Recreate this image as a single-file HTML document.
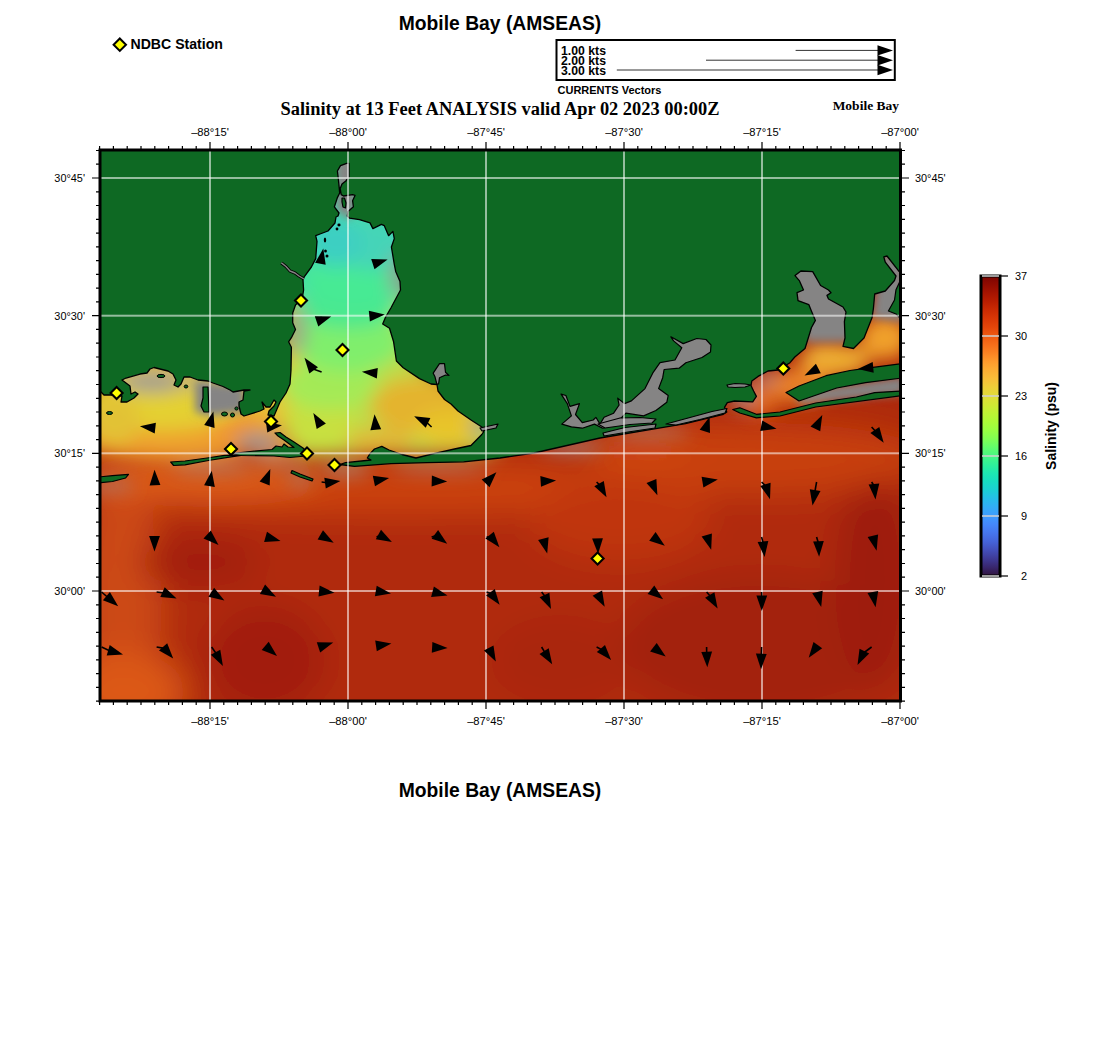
<!DOCTYPE html>
<html><head><meta charset="utf-8"><style>
html,body{margin:0;padding:0;background:#fff;width:1100px;height:1050px;overflow:hidden}
svg{position:absolute;left:0;top:0;display:block}
text{fill:#000}
</style></head><body>
<svg width="1100" height="1050" viewBox="0 0 1100 1050">
<defs>
<clipPath id="mapclip"><rect x="101" y="151" width="799" height="550"/></clipPath>
<filter id="bl" x="-20%" y="-20%" width="140%" height="140%"><feGaussianBlur stdDeviation="9"/></filter>
<filter id="bl3" x="-20%" y="-20%" width="140%" height="140%"><feGaussianBlur stdDeviation="16"/></filter>
<filter id="bl2" x="-30%" y="-30%" width="160%" height="160%"><feGaussianBlur stdDeviation="4"/></filter>
<linearGradient id="cb" x1="0" y1="0" x2="0" y2="1"><stop offset="0.0000" stop-color="#7a0402"/><stop offset="0.0286" stop-color="#910b01"/><stop offset="0.0571" stop-color="#a61401"/><stop offset="0.0857" stop-color="#b91e01"/><stop offset="0.1143" stop-color="#cb2b03"/><stop offset="0.1429" stop-color="#d93806"/><stop offset="0.1714" stop-color="#e5460a"/><stop offset="0.2000" stop-color="#ef5a11"/><stop offset="0.2286" stop-color="#f76e1a"/><stop offset="0.2571" stop-color="#fb8323"/><stop offset="0.2857" stop-color="#fe9b2d"/><stop offset="0.3143" stop-color="#fcae34"/><stop offset="0.3429" stop-color="#f8be39"/><stop offset="0.3714" stop-color="#edcf39"/><stop offset="0.4000" stop-color="#e1dc37"/><stop offset="0.4286" stop-color="#d1e834"/><stop offset="0.4571" stop-color="#bef334"/><stop offset="0.4857" stop-color="#acfa37"/><stop offset="0.5143" stop-color="#98fe42"/><stop offset="0.5429" stop-color="#80fe53"/><stop offset="0.5714" stop-color="#61fc6c"/><stop offset="0.6000" stop-color="#46f783"/><stop offset="0.6286" stop-color="#2ff09a"/><stop offset="0.6571" stop-color="#1de7b1"/><stop offset="0.6857" stop-color="#17dcc2"/><stop offset="0.7143" stop-color="#1bcfd4"/><stop offset="0.7429" stop-color="#26bde9"/><stop offset="0.7714" stop-color="#33acf6"/><stop offset="0.8000" stop-color="#3e9bfe"/><stop offset="0.8286" stop-color="#4587fb"/><stop offset="0.8571" stop-color="#4675ed"/><stop offset="0.8857" stop-color="#4563d9"/><stop offset="0.9143" stop-color="#434eba"/><stop offset="0.9429" stop-color="#3e3a96"/><stop offset="0.9714" stop-color="#38266c"/><stop offset="1.0000" stop-color="#30123b"/></linearGradient>
</defs>
<text x="500" y="30" text-anchor="middle" font-family="Liberation Sans" font-weight="bold" font-size="19.3">Mobile Bay (AMSEAS)</text>
<text x="500" y="797" text-anchor="middle" font-family="Liberation Sans" font-weight="bold" font-size="19.3">Mobile Bay (AMSEAS)</text>
<path d="M119.8,38.5 L126,44.7 L119.8,50.9 L113.6,44.7 Z" fill="#ffff00" stroke="#000" stroke-width="2"/>
<text x="130.5" y="49" font-family="Liberation Sans" font-weight="bold" font-size="14.1">NDBC Station</text>
<rect x="556.5" y="40" width="338.3" height="40" fill="#fff" stroke="#000" stroke-width="2"/>
<text x="561" y="55.0" font-family="Liberation Sans" font-weight="bold" font-size="12.2" textLength="45" lengthAdjust="spacingAndGlyphs">1.00 kts</text>
<line x1="795.6" y1="50.4" x2="880" y2="50.4" stroke="#333" stroke-width="1"/>
<path d="M877.5,45.2 L893,50.4 L877.5,55.6 Z" fill="#000"/>
<text x="561" y="65.0" font-family="Liberation Sans" font-weight="bold" font-size="12.2" textLength="45" lengthAdjust="spacingAndGlyphs">2.00 kts</text>
<line x1="706.0" y1="60.2" x2="880" y2="60.2" stroke="#333" stroke-width="1"/>
<path d="M877.5,55.0 L893,60.2 L877.5,65.4 Z" fill="#000"/>
<text x="561" y="75.0" font-family="Liberation Sans" font-weight="bold" font-size="12.2" textLength="45" lengthAdjust="spacingAndGlyphs">3.00 kts</text>
<line x1="616.8" y1="70.0" x2="880" y2="70.0" stroke="#333" stroke-width="1"/>
<path d="M877.5,64.8 L893,70.0 L877.5,75.2 Z" fill="#000"/>
<text x="557.5" y="93.7" font-family="Liberation Sans" font-weight="bold" font-size="11">CURRENTS Vectors</text>
<text x="500" y="114.7" text-anchor="middle" font-family="Liberation Serif" font-weight="bold" font-size="18.4">Salinity at 13 Feet ANALYSIS valid Apr 02 2023 00:00Z</text>
<text x="899" y="110" text-anchor="end" font-family="Liberation Serif" font-weight="bold" font-size="13.5">Mobile Bay</text>
<g clip-path="url(#mapclip)">
<rect x="100" y="150" width="801" height="552" fill="#ad2a0c"/>
<g filter="url(#bl3)">
<ellipse cx="500" cy="600" rx="600" ry="200" fill="#b02c0c"/>
<ellipse cx="122" cy="600" rx="40" ry="125" fill="#cc4814"/>
<ellipse cx="125" cy="692" rx="60" ry="40" fill="#dc5818"/>
<ellipse cx="400" cy="488" rx="320" ry="24" fill="#cc420f"/>
<ellipse cx="200" cy="562" rx="60" ry="25" fill="#a21f08"/>
<ellipse cx="265" cy="660" rx="60" ry="55" fill="#a21f08"/>
<ellipse cx="560" cy="660" rx="70" ry="45" fill="#aa2609"/>
<ellipse cx="760" cy="645" rx="140" ry="70" fill="#a32008"/>
<ellipse cx="875" cy="580" rx="40" ry="110" fill="#9e1d08"/>
<ellipse cx="620" cy="520" rx="90" ry="40" fill="#c0360e"/>
<ellipse cx="760" cy="458" rx="170" ry="35" fill="#c8400f"/>
<ellipse cx="640" cy="450" rx="50" ry="14" fill="#d04812"/>
<ellipse cx="200" cy="478" rx="120" ry="18" fill="#e0601a"/>
</g>
<g filter="url(#bl)">
<path d="M280.0,150.0 L412.0,150.0 L412.0,300.0 L285.0,300.0 Z" fill="#46dcaa"/>
<path d="M280.0,300.0 L412.0,300.0 L420.0,365.0 L500.0,415.0 L500.0,452.0 L370.0,454.0 L300.0,456.0 L280.0,420.0 Z" fill="#bedc48"/>
<path d="M98.0,355.0 L300.0,355.0 L300.0,430.0 L98.0,430.0 Z" fill="#e4c638"/>
<ellipse cx="170" cy="430" rx="110" ry="30" fill="#eea02e"/>
<ellipse cx="160" cy="405" rx="80" ry="26" fill="#e4d030"/>
<ellipse cx="115" cy="420" rx="25" ry="25" fill="#e2c236"/>
<ellipse cx="270" cy="445" rx="25" ry="12" fill="#e89030"/>
<ellipse cx="152" cy="382" rx="34" ry="10" fill="#9c9a94"/>
<ellipse cx="190" cy="382" rx="18" ry="5" fill="#a8a088"/>
<ellipse cx="235" cy="432" rx="25" ry="10" fill="#f09030"/>
<ellipse cx="258" cy="442" rx="22" ry="9" fill="#9a9490"/>
<ellipse cx="300" cy="425" rx="15" ry="20" fill="#c8e040"/>
<ellipse cx="320" cy="420" rx="35" ry="30" fill="#c8e040"/>
<ellipse cx="330" cy="385" rx="50" ry="25" fill="#a4ea56"/>
<ellipse cx="420" cy="405" rx="50" ry="28" fill="#e4b42e"/>
<ellipse cx="450" cy="428" rx="35" ry="18" fill="#e8c42a"/>
<ellipse cx="380" cy="440" rx="35" ry="12" fill="#e0b838"/>
<ellipse cx="348" cy="342" rx="55" ry="30" fill="#80ee6c"/>
<ellipse cx="348" cy="308" rx="50" ry="20" fill="#4ae890"/>
<ellipse cx="352" cy="278" rx="50" ry="25" fill="#46ea94"/>
<ellipse cx="372" cy="245" rx="35" ry="25" fill="#44d4b8"/>
<ellipse cx="335" cy="242" rx="25" ry="25" fill="#3ecfc2"/>
<ellipse cx="480" cy="427" rx="9" ry="10" fill="#a09a90"/>
<ellipse cx="398" cy="275" rx="8" ry="22" fill="#909890"/>
<ellipse cx="297" cy="330" rx="9" ry="25" fill="#9aa08a"/>
<ellipse cx="280" cy="462" rx="25" ry="4" fill="#b08068"/>
<ellipse cx="826" cy="352" rx="22" ry="10" fill="#d89a48"/>
<ellipse cx="345" cy="470" rx="25" ry="5" fill="#a89080"/>
<ellipse cx="212" cy="468" rx="40" ry="5" fill="#b07868"/>
<ellipse cx="112" cy="486" rx="22" ry="6" fill="#b07060"/>
<ellipse cx="300" cy="480" rx="12" ry="5" fill="#a88070"/>
<ellipse cx="440" cy="468" rx="50" ry="4" fill="#b08070"/>
<ellipse cx="572" cy="447" rx="32" ry="5" fill="#a08c88"/>
<ellipse cx="650" cy="433" rx="40" ry="5" fill="#b07868"/>
<ellipse cx="885" cy="338" rx="25" ry="22" fill="#f0a02c"/>
<ellipse cx="835" cy="360" rx="35" ry="16" fill="#eeae30"/>
<ellipse cx="800" cy="385" rx="30" ry="18" fill="#e88028"/>
<ellipse cx="760" cy="400" rx="20" ry="15" fill="#e06a1a"/>
<ellipse cx="742" cy="398" rx="12" ry="9" fill="#a09090"/>
<ellipse cx="766" cy="378" rx="12" ry="6" fill="#b09080"/>
</g>
<g filter="url(#bl2)">
<path d="M195.0,380.0 L245.0,386.0 L245.0,412.0 L210.0,416.0 L195.0,412.0 Z" fill="#858484"/>
<path d="M335.0,150.0 L356.0,150.0 L356.0,205.0 L350.0,220.0 L336.0,210.0 Z" fill="#858484"/>
<path d="M788.0,258.0 L836.0,262.0 L852.0,295.0 L852.0,342.0 L806.0,342.0 L790.0,290.0 Z" fill="#858484"/>
<path d="M880.0,250.0 L905.0,262.0 L905.0,322.0 L872.0,318.0 Z" fill="#858484"/>
<path d="M795.0,392.0 L905.0,376.0 L905.0,394.0 L800.0,404.0 Z" fill="#858484"/>
</g>
<path d="M100.0,391.0 L104.0,395.0 L111.0,395.0 L122.0,396.0 L121.0,402.0 L127.0,402.0 L134.0,398.0 L138.0,394.0 L135.0,392.0 L131.0,394.0 L130.0,386.0 L126.0,383.0 L122.0,380.0 L126.0,378.0 L133.0,376.0 L140.0,374.0 L147.0,373.0 L150.0,369.0 L154.0,367.5 L160.0,369.0 L168.0,371.0 L173.0,374.0 L176.0,380.0 L174.0,385.0 L178.0,387.0 L181.0,384.0 L184.0,377.0 L190.0,377.0 L198.0,380.0 L208.0,381.0 L213.0,383.0 L223.0,386.5 L230.0,390.0 L233.0,392.0 L244.0,390.0 L250.0,390.0 L244.0,391.0 L243.0,400.0 L239.0,402.0 L239.0,406.0 L241.0,414.0 L244.0,416.0 L260.0,411.0 L264.0,409.0 L262.0,402.0 L266.0,407.0 L270.0,407.0 L274.0,400.0 L276.0,402.0 L274.0,406.0 L269.0,411.0 L268.0,415.0 L274.0,416.0 L280.0,402.0 L286.0,393.0 L290.0,384.0 L291.0,370.0 L291.4,347.3 L288.6,341.8 L291.4,337.7 L295.5,329.5 L292.7,322.7 L292.7,313.0 L295.5,305.0 L302.3,298.0 L303.6,290.0 L302.9,278.6 L311.4,267.0 L315.7,258.6 L317.0,241.4 L315.7,235.7 L320.0,234.0 L328.0,231.0 L335.0,223.0 L336.0,217.0 L338.0,216.0 L339.0,213.0 L334.4,206.8 L337.4,197.6 L339.7,193.0 L339.0,185.5 L338.2,177.8 L337.4,171.0 L340.5,165.7 L346.6,163.4 L349.0,163.4 L349.0,177.0 L345.8,181.0 L342.0,184.0 L340.2,188.5 L341.2,194.6 L343.5,196.0 L352.6,194.6 L355.0,195.4 L352.6,200.7 L353.4,206.8 L348.0,211.4 L347.3,216.0 L349.6,218.2 L359.5,219.7 L370.0,222.9 L372.9,228.6 L381.4,224.3 L384.3,225.7 L388.6,235.7 L392.9,231.4 L394.3,238.6 L391.4,247.0 L394.3,264.3 L395.7,271.4 L400.0,281.4 L400.5,290.0 L391.0,307.7 L385.5,317.3 L382.7,324.0 L389.5,328.2 L393.6,341.8 L396.4,361.0 L403.2,367.7 L419.5,378.6 L431.0,384.0 L437.0,384.5 L438.0,391.0 L444.5,399.5 L451.0,404.0 L458.0,411.0 L471.0,420.0 L481.8,427.0 L483.6,431.8 L481.8,434.5 L471.0,445.5 L454.5,449.0 L438.0,452.7 L416.0,458.0 L402.0,454.5 L389.0,450.0 L381.8,446.4 L374.5,449.0 L370.0,453.6 L367.3,458.0 L371.0,460.0 L345.5,462.7 L340.0,464.5 L354.5,466.4 L391.0,463.6 L427.0,462.7 L463.6,461.8 L500.0,458.0 L534.0,453.0 L600.0,438.0 L650.0,429.6 L685.5,423.7 L709.0,417.8 L723.3,414.3 L726.8,412.0 L724.5,407.3 L727.3,402.7 L734.5,401.0 L752.7,401.8 L756.4,396.4 L753.6,391.0 L751.0,385.5 L751.8,381.0 L758.0,376.4 L768.0,371.0 L778.0,370.0 L790.0,362.7 L794.8,357.0 L805.0,348.5 L811.5,327.5 L815.4,320.4 L811.4,311.0 L808.8,304.6 L798.0,300.6 L797.0,292.7 L803.5,290.0 L799.5,280.9 L795.0,275.6 L800.9,271.0 L812.7,271.6 L820.6,285.5 L828.5,290.0 L831.0,292.7 L827.0,295.4 L828.5,299.0 L843.0,307.0 L846.0,312.0 L844.4,321.7 L845.0,338.0 L843.0,346.4 L853.5,348.5 L864.0,338.0 L872.0,317.8 L873.4,308.5 L874.7,294.0 L885.3,291.0 L894.5,280.5 L896.0,276.0 L885.3,262.2 L883.8,256.9 L887.0,256.0 L899.0,271.4 L902.0,271.4 L902.0,148.0 L98.0,148.0 L98.0,391.0 Z" fill="#0e6923" stroke="#000" stroke-width="1.3" stroke-linejoin="round"/>
<path d="M170.7,462.0 L185.0,461.0 L207.0,458.0 L224.5,455.4 L246.0,454.6 L231.0,456.8 L208.5,460.5 L185.0,464.8 L173.6,465.5 Z" fill="#0e6923" stroke="#000" stroke-width="1.2" stroke-linejoin="round"/>
<path d="M98.0,477.0 L112.5,475.7 L128.5,474.3 L125.6,478.0 L112.5,481.5 L98.0,483.0 Z" fill="#0e6923" stroke="#000" stroke-width="1.2" stroke-linejoin="round"/>
<path d="M232.0,453.5 L250.0,451.5 L272.0,449.5 L276.0,446.0 L282.0,447.0 L284.0,444.0 L288.0,447.0 L294.0,447.5 L284.0,440.0 L278.0,436.0 L275.0,433.0 L280.0,432.5 L286.0,437.0 L294.0,442.0 L303.0,448.0 L307.0,452.0 L306.0,456.0 L290.0,457.5 L274.0,456.0 L240.0,455.5 Z" fill="#0e6923" stroke="#000" stroke-width="1.2" stroke-linejoin="round"/>
<path d="M342.0,198.0 L344.5,198.0 L346.0,203.0 L345.5,208.0 L343.0,207.0 L342.0,202.0 Z" fill="#0e6923" stroke="#000" stroke-width="1.2" stroke-linejoin="round"/>
<path d="M292.0,470.5 L300.0,474.0 L313.0,479.0 L312.0,481.0 L300.0,477.0 L291.0,473.0 Z" fill="#0e6923" stroke="#000" stroke-width="1.2" stroke-linejoin="round"/>
<path d="M203.0,387.0 L208.0,387.0 L209.0,412.0 L204.0,412.0 L201.0,406.0 L203.0,398.0 Z" fill="#0e6923" stroke="#000" stroke-width="1.2" stroke-linejoin="round"/>
<path d="M732.7,409.5 L739.8,407.8 L756.4,414.3 L780.0,412.0 L815.7,403.0 L856.4,397.0 L874.7,392.6 L902.0,391.0 L902.0,395.6 L815.7,407.0 L780.0,416.0 L756.4,417.8 L739.8,413.0 Z" fill="#0e6923" stroke="#000" stroke-width="1.2" stroke-linejoin="round"/>
<path d="M902.0,363.6 L873.0,367.4 L850.0,370.5 L826.0,375.7 L799.0,386.0 L786.0,392.5 L799.0,401.0 L836.7,388.0 L865.5,382.7 L902.0,378.0 Z" fill="#0e6923" stroke="#000" stroke-width="1.2" stroke-linejoin="round"/>
<path d="M902.0,277.0 L896.0,289.7 L894.5,300.0 L888.4,311.0 L896.0,314.0 L902.0,320.0 Z" fill="#0e6923" stroke="#000" stroke-width="1.2" stroke-linejoin="round"/>
<path d="M561.8,424.1 L571.4,415.9 L567.3,403.6 L561.1,394.1 L565.9,395.5 L570.0,406.4 L579.5,403.6 L575.5,414.5 L582.3,422.7 L593.2,420.0 L595.9,417.3 L600.0,424.1 L604.1,417.3 L613.6,413.2 L619.1,405.0 L617.7,398.2 L624.5,403.6 L631.4,400.9 L645.0,388.6 L653.2,372.3 L660.0,362.7 L675.0,360.0 L681.8,347.7 L673.6,340.9 L670.9,336.8 L683.2,343.6 L696.8,338.5 L706.0,339.5 L711.0,345.0 L710.5,352.0 L702.0,357.5 L685.9,362.7 L679.1,368.2 L664.1,369.5 L662.7,377.7 L658.6,388.6 L668.2,395.5 L666.8,402.3 L655.9,410.5 L643.6,415.9 L625.9,413.2 L620.5,418.6 L616.4,424.1 L602.7,428.2 L594.5,424.1 L582.3,428.2 L571.4,426.8 Z" fill="#858484" stroke="#000" stroke-width="1.2" stroke-linejoin="round"/>
<path d="M598.0,424.0 L620.0,418.0 L640.0,417.5 L656.0,419.0 L652.0,423.0 L630.0,424.5 L605.0,428.0 Z" fill="#858484" stroke="#000" stroke-width="1.2" stroke-linejoin="round"/>
<path d="M603.0,433.0 L625.0,427.5 L656.0,424.0 L655.0,428.0 L628.0,432.0 L604.0,436.0 Z" fill="#858484" stroke="#000" stroke-width="1.2" stroke-linejoin="round"/>
<path d="M666.0,424.0 L690.0,417.5 L712.0,411.5 L727.0,408.5 L725.0,413.0 L700.0,419.5 L676.0,425.0 Z" fill="#858484" stroke="#000" stroke-width="1.2" stroke-linejoin="round"/>
<path d="M727.0,385.0 L735.0,383.5 L745.0,384.0 L751.0,385.0 L745.0,387.0 L735.0,387.5 L728.0,387.0 Z" fill="#858484" stroke="#000" stroke-width="1.2" stroke-linejoin="round"/>
<path d="M433.2,373.2 L439.5,363.6 L444.5,363.6 L445.5,372.3 L449.0,375.5 L445.5,375.0 L439.5,377.7 L438.6,384.0 L436.8,384.0 L435.0,376.8 Z" fill="#858484" stroke="#000" stroke-width="1.2" stroke-linejoin="round"/>
<path d="M480.0,428.0 L498.0,424.0 L496.0,428.0 L482.0,431.0 Z" fill="#858484" stroke="#000" stroke-width="1.2" stroke-linejoin="round"/>
<ellipse cx="109.5" cy="413" rx="3" ry="1.5" fill="#0e6923" stroke="#000" stroke-width="1"/>
<ellipse cx="161" cy="376" rx="4" ry="1.6" fill="#0e6923" stroke="#000" stroke-width="1"/>
<ellipse cx="186" cy="386.5" rx="1.8" ry="1.5" fill="#0e6923" stroke="#000" stroke-width="1"/>
<ellipse cx="224.5" cy="414" rx="3" ry="2" fill="#0e6923" stroke="#000" stroke-width="1"/>
<ellipse cx="232.5" cy="415" rx="2" ry="2" fill="#0e6923" stroke="#000" stroke-width="1"/>
<ellipse cx="236.5" cy="408.5" rx="1.6" ry="1.6" fill="#0e6923" stroke="#000" stroke-width="1"/>
<path d="M281.4,262.9 L286,266.5 L290,271 L295,273 L299,276 L304,279" fill="none" stroke="#000" stroke-width="3.2" stroke-linejoin="round"/>
<path d="M281.4,262.9 L286,266.5 L290,271 L295,273 L299,276 L304,279" fill="none" stroke="#858484" stroke-width="1.4" stroke-linejoin="round"/>
<ellipse cx="325" cy="240" rx="1.2" ry="2.6" fill="#000"/>
<ellipse cx="325.5" cy="251" rx="1.4" ry="1.6" fill="#000"/>
<ellipse cx="327" cy="256" rx="1.5" ry="1.5" fill="#000"/>
<ellipse cx="339" cy="225" rx="1.6" ry="1.4" fill="#000"/>
<ellipse cx="337" cy="229" rx="1.4" ry="1.4" fill="#000"/>
<rect x="209.0" y="150" width="2" height="552" fill="#ffffff" fill-opacity="0.56"/>
<rect x="347.0" y="150" width="2" height="552" fill="#ffffff" fill-opacity="0.56"/>
<rect x="485.0" y="150" width="2" height="552" fill="#ffffff" fill-opacity="0.56"/>
<rect x="623.0" y="150" width="2" height="552" fill="#ffffff" fill-opacity="0.56"/>
<rect x="761.0" y="150" width="2" height="552" fill="#ffffff" fill-opacity="0.56"/>
<rect x="100" y="177.0" width="801" height="2" fill="#ffffff" fill-opacity="0.56"/>
<rect x="100" y="314.7" width="801" height="2" fill="#ffffff" fill-opacity="0.56"/>
<rect x="100" y="452.3" width="801" height="2" fill="#ffffff" fill-opacity="0.56"/>
<rect x="100" y="590.0" width="801" height="2" fill="#ffffff" fill-opacity="0.56"/>
</g>
<g clip-path="url(#mapclip)">
<path d="M154.5,469.8 L160.4,485.1 L149.6,485.4 Z" fill="#000"/>
<line x1="156.6" y1="482.0" x2="154.9" y2="483.2" stroke="#000" stroke-width="1.6"/>
<path d="M211.8,470.8 L214.8,487.0 L204.1,485.3 Z" fill="#000"/>
<line x1="211.6" y1="482.0" x2="209.8" y2="484.2" stroke="#000" stroke-width="1.6"/>
<path d="M270.3,469.1 L269.7,485.5 L259.6,481.6 Z" fill="#000"/>
<path d="M154.5,551.5 L149.1,536.0 L159.9,536.0 Z" fill="#000"/>
<path d="M218.5,545.0 L203.5,538.5 L210.8,530.5 Z" fill="#000"/>
<line x1="211.6" y1="537.0" x2="208.6" y2="535.9" stroke="#000" stroke-width="1.6"/>
<path d="M280.5,541.1 L264.1,542.1 L267.0,531.7 Z" fill="#000"/>
<path d="M340.4,480.9 L325.8,488.4 L324.3,477.7 Z" fill="#000"/>
<line x1="321.6" y1="482.0" x2="327.1" y2="482.8" stroke="#000" stroke-width="1.6"/>
<path d="M389.1,478.0 L375.0,486.3 L372.8,475.7 Z" fill="#000"/>
<line x1="376.6" y1="482.0" x2="375.9" y2="480.6" stroke="#000" stroke-width="1.6"/>
<path d="M447.2,481.5 L431.6,486.4 L431.9,475.6 Z" fill="#000"/>
<path d="M496.4,472.3 L489.5,487.2 L481.7,479.6 Z" fill="#000"/>
<path d="M333.7,542.8 L317.6,539.6 L323.0,530.3 Z" fill="#000"/>
<path d="M391.9,541.9 L375.8,539.2 L381.0,529.7 Z" fill="#000"/>
<line x1="376.6" y1="537.0" x2="380.1" y2="535.4" stroke="#000" stroke-width="1.6"/>
<path d="M447.2,543.7 L431.6,538.7 L438.1,530.1 Z" fill="#000"/>
<line x1="431.6" y1="537.0" x2="436.4" y2="535.6" stroke="#000" stroke-width="1.6"/>
<path d="M499.4,547.2 L485.4,538.5 L493.8,531.7 Z" fill="#000"/>
<line x1="486.6" y1="537.0" x2="490.9" y2="536.7" stroke="#000" stroke-width="1.6"/>
<path d="M556.1,480.4 L541.0,486.7 L540.3,476.0 Z" fill="#000"/>
<path d="M606.5,497.3 L594.3,486.2 L603.8,481.1 Z" fill="#000"/>
<line x1="596.6" y1="482.0" x2="600.0" y2="485.4" stroke="#000" stroke-width="1.6"/>
<path d="M657.4,495.3 L646.5,483.1 L656.4,479.0 Z" fill="#000"/>
<path d="M547.2,553.6 L538.1,539.9 L548.6,537.2 Z" fill="#000"/>
<path d="M598.1,553.8 L592.1,538.5 L602.9,538.2 Z" fill="#000"/>
<path d="M664.8,545.7 L649.2,540.8 L655.6,532.1 Z" fill="#000"/>
<path d="M717.8,479.5 L703.4,487.4 L701.6,476.8 Z" fill="#000"/>
<line x1="706.6" y1="482.0" x2="704.5" y2="481.8" stroke="#000" stroke-width="1.6"/>
<path d="M770.0,499.2 L760.3,485.9 L770.6,482.7 Z" fill="#000"/>
<line x1="761.6" y1="482.0" x2="766.0" y2="486.3" stroke="#000" stroke-width="1.6"/>
<path d="M812.5,505.4 L809.8,489.2 L820.5,491.0 Z" fill="#000"/>
<line x1="816.6" y1="482.0" x2="814.8" y2="492.1" stroke="#000" stroke-width="1.6"/>
<path d="M875.5,499.5 L868.6,484.6 L879.3,483.5 Z" fill="#000"/>
<line x1="871.6" y1="482.0" x2="874.2" y2="486.0" stroke="#000" stroke-width="1.6"/>
<path d="M711.2,549.8 L701.6,536.5 L711.9,533.4 Z" fill="#000"/>
<path d="M764.6,556.9 L757.6,542.1 L768.3,540.9 Z" fill="#000"/>
<line x1="761.6" y1="537.0" x2="763.2" y2="543.5" stroke="#000" stroke-width="1.6"/>
<path d="M819.1,556.8 L813.1,541.6 L823.8,541.1 Z" fill="#000"/>
<line x1="816.6" y1="537.0" x2="818.5" y2="543.4" stroke="#000" stroke-width="1.6"/>
<path d="M876.6,550.7 L867.6,537.0 L878.1,534.4 Z" fill="#000"/>
<path d="M118.2,606.3 L102.9,600.3 L109.9,592.1 Z" fill="#000"/>
<line x1="101.6" y1="592.0" x2="107.9" y2="597.5" stroke="#000" stroke-width="1.6"/>
<path d="M176.6,598.5 L160.3,597.1 L164.7,587.3 Z" fill="#000"/>
<line x1="156.6" y1="592.0" x2="164.3" y2="593.0" stroke="#000" stroke-width="1.6"/>
<path d="M224.4,600.5 L208.4,596.8 L214.1,587.7 Z" fill="#000"/>
<path d="M276.0,596.7 L259.9,593.9 L265.1,584.5 Z" fill="#000"/>
<line x1="266.6" y1="592.0" x2="264.2" y2="590.2" stroke="#000" stroke-width="1.6"/>
<path d="M123.0,654.6 L106.7,655.5 L109.7,645.1 Z" fill="#000"/>
<line x1="101.6" y1="647.0" x2="110.1" y2="650.9" stroke="#000" stroke-width="1.6"/>
<path d="M173.2,658.6 L159.0,650.4 L167.2,643.3 Z" fill="#000"/>
<line x1="156.6" y1="647.0" x2="164.4" y2="648.4" stroke="#000" stroke-width="1.6"/>
<path d="M222.9,665.9 L210.8,654.8 L220.3,649.7 Z" fill="#000"/>
<line x1="211.6" y1="647.0" x2="216.5" y2="654.0" stroke="#000" stroke-width="1.6"/>
<path d="M277.0,656.0 L261.7,650.0 L268.7,641.8 Z" fill="#000"/>
<path d="M334.5,592.7 L318.5,596.4 L319.6,585.6 Z" fill="#000"/>
<line x1="321.6" y1="592.0" x2="321.0" y2="591.2" stroke="#000" stroke-width="1.6"/>
<path d="M391.0,593.6 L374.9,596.3 L376.7,585.7 Z" fill="#000"/>
<path d="M447.5,595.6 L431.1,596.9 L433.9,586.4 Z" fill="#000"/>
<path d="M499.6,604.8 L486.1,595.4 L494.8,589.1 Z" fill="#000"/>
<line x1="486.6" y1="592.0" x2="491.6" y2="593.8" stroke="#000" stroke-width="1.6"/>
<path d="M333.2,642.5 L320.2,652.6 L316.8,642.3 Z" fill="#000"/>
<line x1="321.6" y1="647.0" x2="320.4" y2="646.8" stroke="#000" stroke-width="1.6"/>
<path d="M391.4,643.5 L376.8,651.2 L375.2,640.5 Z" fill="#000"/>
<path d="M447.6,648.0 L431.8,652.7 L432.4,641.9 Z" fill="#000"/>
<path d="M495.8,661.6 L483.9,650.4 L493.5,645.4 Z" fill="#000"/>
<path d="M551.0,609.0 L539.6,597.2 L549.4,592.7 Z" fill="#000"/>
<line x1="541.6" y1="592.0" x2="545.3" y2="596.8" stroke="#000" stroke-width="1.6"/>
<path d="M604.7,606.8 L592.6,595.7 L602.1,590.6 Z" fill="#000"/>
<path d="M663.1,599.3 L647.6,593.9 L654.3,585.5 Z" fill="#000"/>
<path d="M552.2,664.3 L539.5,654.0 L548.7,648.3 Z" fill="#000"/>
<line x1="541.6" y1="647.0" x2="545.1" y2="652.8" stroke="#000" stroke-width="1.6"/>
<path d="M611.1,660.1 L596.8,651.9 L605.0,644.9 Z" fill="#000"/>
<line x1="596.6" y1="647.0" x2="602.2" y2="649.9" stroke="#000" stroke-width="1.6"/>
<path d="M665.7,656.6 L650.1,651.4 L656.7,642.9 Z" fill="#000"/>
<path d="M717.6,608.4 L705.1,597.8 L714.4,592.3 Z" fill="#000"/>
<line x1="706.6" y1="592.0" x2="710.8" y2="596.8" stroke="#000" stroke-width="1.6"/>
<path d="M761.8,610.9 L756.4,595.4 L767.2,595.4 Z" fill="#000"/>
<line x1="761.6" y1="592.0" x2="761.8" y2="597.4" stroke="#000" stroke-width="1.6"/>
<path d="M821.2,607.1 L812.2,593.3 L822.7,590.7 Z" fill="#000"/>
<path d="M875.6,607.2 L867.5,592.9 L878.2,591.0 Z" fill="#000"/>
<path d="M707.3,667.3 L701.3,652.0 L712.1,651.6 Z" fill="#000"/>
<line x1="706.6" y1="647.0" x2="706.7" y2="653.8" stroke="#000" stroke-width="1.6"/>
<path d="M761.0,669.2 L755.9,653.6 L766.7,653.9 Z" fill="#000"/>
<line x1="761.6" y1="647.0" x2="761.3" y2="655.8" stroke="#000" stroke-width="1.6"/>
<path d="M808.7,657.7 L813.5,642.0 L822.2,648.3 Z" fill="#000"/>
<path d="M857.5,665.1 L859.5,648.8 L869.2,653.6 Z" fill="#000"/>
<line x1="871.6" y1="647.0" x2="863.5" y2="653.0" stroke="#000" stroke-width="1.6"/>
<path d="M139.9,426.3 L155.9,422.7 L154.7,433.4 Z" fill="#000"/>
<path d="M213.4,411.5 L214.6,427.9 L204.2,425.1 Z" fill="#000"/>
<path d="M282.0,425.2 L267.3,432.5 L265.9,421.8 Z" fill="#000"/>
<path d="M313.3,413.1 L325.9,423.5 L316.7,429.1 Z" fill="#000"/>
<path d="M374.5,414.3 L381.2,429.3 L370.4,430.2 Z" fill="#000"/>
<line x1="376.6" y1="427.0" x2="375.6" y2="427.7" stroke="#000" stroke-width="1.6"/>
<path d="M414.1,416.2 L430.4,418.0 L425.7,427.8 Z" fill="#000"/>
<line x1="431.6" y1="427.0" x2="426.2" y2="422.0" stroke="#000" stroke-width="1.6"/>
<path d="M304.5,357.8 L318.0,367.2 L309.3,373.5 Z" fill="#000"/>
<line x1="321.6" y1="372.0" x2="312.5" y2="368.8" stroke="#000" stroke-width="1.6"/>
<path d="M361.9,371.8 L377.8,367.9 L376.8,378.6 Z" fill="#000"/>
<path d="M323.3,248.6 L325.7,264.8 L315.1,262.8 Z" fill="#000"/>
<path d="M387.6,259.4 L374.5,269.3 L371.2,259.0 Z" fill="#000"/>
<line x1="376.6" y1="262.0" x2="374.8" y2="263.5" stroke="#000" stroke-width="1.6"/>
<path d="M331.2,316.4 L318.3,326.5 L314.8,316.3 Z" fill="#000"/>
<line x1="321.6" y1="317.0" x2="318.4" y2="320.8" stroke="#000" stroke-width="1.6"/>
<path d="M384.8,314.5 L369.9,321.4 L368.8,310.7 Z" fill="#000"/>
<line x1="376.6" y1="317.0" x2="371.4" y2="315.8" stroke="#000" stroke-width="1.6"/>
<path d="M709.6,416.7 L710.0,433.1 L699.7,429.8 Z" fill="#000"/>
<line x1="706.6" y1="427.0" x2="705.5" y2="429.5" stroke="#000" stroke-width="1.6"/>
<path d="M776.5,428.8 L760.2,431.1 L762.3,420.5 Z" fill="#000"/>
<path d="M822.3,415.1 L820.2,431.3 L810.5,426.5 Z" fill="#000"/>
<path d="M883.7,442.8 L870.4,433.1 L879.3,427.0 Z" fill="#000"/>
<line x1="871.6" y1="427.0" x2="876.0" y2="431.7" stroke="#000" stroke-width="1.6"/>
<path d="M804.5,375.5 L815.9,363.7 L820.8,373.3 Z" fill="#000"/>
<line x1="816.6" y1="372.0" x2="816.5" y2="369.4" stroke="#000" stroke-width="1.6"/>
<path d="M857.8,368.9 L872.7,362.0 L873.7,372.8 Z" fill="#000"/>
<line x1="871.6" y1="372.0" x2="871.2" y2="367.6" stroke="#000" stroke-width="1.6"/>
</g>
<path d="M116.6,387.0 L122.6,393.0 L116.6,399.0 L110.6,393.0 Z" fill="#ffff00" stroke="#000" stroke-width="2.1"/>
<path d="M271.0,415.5 L277.0,421.5 L271.0,427.5 L265.0,421.5 Z" fill="#ffff00" stroke="#000" stroke-width="2.1"/>
<path d="M231.0,443.0 L237.0,449.0 L231.0,455.0 L225.0,449.0 Z" fill="#ffff00" stroke="#000" stroke-width="2.1"/>
<path d="M307.0,447.5 L313.0,453.5 L307.0,459.5 L301.0,453.5 Z" fill="#ffff00" stroke="#000" stroke-width="2.1"/>
<path d="M334.5,459.0 L340.5,465.0 L334.5,471.0 L328.5,465.0 Z" fill="#ffff00" stroke="#000" stroke-width="2.1"/>
<path d="M301.0,294.5 L307.0,300.5 L301.0,306.5 L295.0,300.5 Z" fill="#ffff00" stroke="#000" stroke-width="2.1"/>
<path d="M342.5,344.0 L348.5,350.0 L342.5,356.0 L336.5,350.0 Z" fill="#ffff00" stroke="#000" stroke-width="2.1"/>
<path d="M783.3,362.6 L789.3,368.6 L783.3,374.6 L777.3,368.6 Z" fill="#ffff00" stroke="#000" stroke-width="2.1"/>
<path d="M597.6,552.6 L603.6,558.6 L597.6,564.6 L591.6,558.6 Z" fill="#ffff00" stroke="#000" stroke-width="2.1"/>
<rect x="100" y="150" width="800.5" height="551" fill="none" stroke="#000" stroke-width="3"/>
<path d="M99.6,149 V146.0 M99.6,702 V705.0 M113.4,149 V146.0 M113.4,702 V705.0 M127.2,149 V146.0 M127.2,702 V705.0 M141.0,149 V146.0 M141.0,702 V705.0 M154.8,149 V146.0 M154.8,702 V705.0 M168.6,149 V146.0 M168.6,702 V705.0 M182.4,149 V146.0 M182.4,702 V705.0 M196.2,149 V146.0 M196.2,702 V705.0 M210.0,149 V142.0 M210.0,702 V709.0 M223.8,149 V146.0 M223.8,702 V705.0 M237.6,149 V146.0 M237.6,702 V705.0 M251.4,149 V146.0 M251.4,702 V705.0 M265.2,149 V146.0 M265.2,702 V705.0 M279.0,149 V146.0 M279.0,702 V705.0 M292.8,149 V146.0 M292.8,702 V705.0 M306.6,149 V146.0 M306.6,702 V705.0 M320.4,149 V146.0 M320.4,702 V705.0 M334.2,149 V146.0 M334.2,702 V705.0 M348.0,149 V142.0 M348.0,702 V709.0 M361.8,149 V146.0 M361.8,702 V705.0 M375.6,149 V146.0 M375.6,702 V705.0 M389.4,149 V146.0 M389.4,702 V705.0 M403.2,149 V146.0 M403.2,702 V705.0 M417.0,149 V146.0 M417.0,702 V705.0 M430.8,149 V146.0 M430.8,702 V705.0 M444.6,149 V146.0 M444.6,702 V705.0 M458.4,149 V146.0 M458.4,702 V705.0 M472.2,149 V146.0 M472.2,702 V705.0 M486.0,149 V142.0 M486.0,702 V709.0 M499.8,149 V146.0 M499.8,702 V705.0 M513.6,149 V146.0 M513.6,702 V705.0 M527.4,149 V146.0 M527.4,702 V705.0 M541.2,149 V146.0 M541.2,702 V705.0 M555.0,149 V146.0 M555.0,702 V705.0 M568.8,149 V146.0 M568.8,702 V705.0 M582.6,149 V146.0 M582.6,702 V705.0 M596.4,149 V146.0 M596.4,702 V705.0 M610.2,149 V146.0 M610.2,702 V705.0 M624.0,149 V142.0 M624.0,702 V709.0 M637.8,149 V146.0 M637.8,702 V705.0 M651.6,149 V146.0 M651.6,702 V705.0 M665.4,149 V146.0 M665.4,702 V705.0 M679.2,149 V146.0 M679.2,702 V705.0 M693.0,149 V146.0 M693.0,702 V705.0 M706.8,149 V146.0 M706.8,702 V705.0 M720.6,149 V146.0 M720.6,702 V705.0 M734.4,149 V146.0 M734.4,702 V705.0 M748.2,149 V146.0 M748.2,702 V705.0 M762.0,149 V142.0 M762.0,702 V709.0 M775.8,149 V146.0 M775.8,702 V705.0 M789.6,149 V146.0 M789.6,702 V705.0 M803.4,149 V146.0 M803.4,702 V705.0 M817.2,149 V146.0 M817.2,702 V705.0 M831.0,149 V146.0 M831.0,702 V705.0 M844.8,149 V146.0 M844.8,702 V705.0 M858.6,149 V146.0 M858.6,702 V705.0 M872.4,149 V146.0 M872.4,702 V705.0 M886.2,149 V146.0 M886.2,702 V705.0 M900.0,149 V142.0 M900.0,702 V709.0 M99,150.5 H96.0 M902,150.5 H905.0 M99,164.2 H96.0 M902,164.2 H905.0 M99,178.0 H92.0 M902,178.0 H909.0 M99,191.8 H96.0 M902,191.8 H905.0 M99,205.5 H96.0 M902,205.5 H905.0 M99,219.3 H96.0 M902,219.3 H905.0 M99,233.1 H96.0 M902,233.1 H905.0 M99,246.8 H96.0 M902,246.8 H905.0 M99,260.6 H96.0 M902,260.6 H905.0 M99,274.4 H96.0 M902,274.4 H905.0 M99,288.1 H96.0 M902,288.1 H905.0 M99,301.9 H96.0 M902,301.9 H905.0 M99,315.7 H92.0 M902,315.7 H909.0 M99,329.4 H96.0 M902,329.4 H905.0 M99,343.2 H96.0 M902,343.2 H905.0 M99,357.0 H96.0 M902,357.0 H905.0 M99,370.7 H96.0 M902,370.7 H905.0 M99,384.5 H96.0 M902,384.5 H905.0 M99,398.3 H96.0 M902,398.3 H905.0 M99,412.0 H96.0 M902,412.0 H905.0 M99,425.8 H96.0 M902,425.8 H905.0 M99,439.6 H96.0 M902,439.6 H905.0 M99,453.3 H92.0 M902,453.3 H909.0 M99,467.1 H96.0 M902,467.1 H905.0 M99,480.9 H96.0 M902,480.9 H905.0 M99,494.6 H96.0 M902,494.6 H905.0 M99,508.4 H96.0 M902,508.4 H905.0 M99,522.2 H96.0 M902,522.2 H905.0 M99,535.9 H96.0 M902,535.9 H905.0 M99,549.7 H96.0 M902,549.7 H905.0 M99,563.5 H96.0 M902,563.5 H905.0 M99,577.2 H96.0 M902,577.2 H905.0 M99,591.0 H92.0 M902,591.0 H909.0 M99,604.8 H96.0 M902,604.8 H905.0 M99,618.5 H96.0 M902,618.5 H905.0 M99,632.3 H96.0 M902,632.3 H905.0 M99,646.1 H96.0 M902,646.1 H905.0 M99,659.8 H96.0 M902,659.8 H905.0 M99,673.6 H96.0 M902,673.6 H905.0 M99,687.4 H96.0 M902,687.4 H905.0 M99,701.1 H96.0 M902,701.1 H905.0" stroke="#000" stroke-width="1.2" fill="none"/>
<text x="210.0" y="135.5" text-anchor="middle" font-family="Liberation Sans" font-size="11.2">–88°15'</text>
<text x="210.0" y="725" text-anchor="middle" font-family="Liberation Sans" font-size="11.2">–88°15'</text>
<text x="348.0" y="135.5" text-anchor="middle" font-family="Liberation Sans" font-size="11.2">–88°00'</text>
<text x="348.0" y="725" text-anchor="middle" font-family="Liberation Sans" font-size="11.2">–88°00'</text>
<text x="486.0" y="135.5" text-anchor="middle" font-family="Liberation Sans" font-size="11.2">–87°45'</text>
<text x="486.0" y="725" text-anchor="middle" font-family="Liberation Sans" font-size="11.2">–87°45'</text>
<text x="624.0" y="135.5" text-anchor="middle" font-family="Liberation Sans" font-size="11.2">–87°30'</text>
<text x="624.0" y="725" text-anchor="middle" font-family="Liberation Sans" font-size="11.2">–87°30'</text>
<text x="762.0" y="135.5" text-anchor="middle" font-family="Liberation Sans" font-size="11.2">–87°15'</text>
<text x="762.0" y="725" text-anchor="middle" font-family="Liberation Sans" font-size="11.2">–87°15'</text>
<text x="900.0" y="135.5" text-anchor="middle" font-family="Liberation Sans" font-size="11.2">–87°00'</text>
<text x="900.0" y="725" text-anchor="middle" font-family="Liberation Sans" font-size="11.2">–87°00'</text>
<text x="85" y="182.0" text-anchor="end" font-family="Liberation Sans" font-size="10.9">30°45'</text>
<text x="915" y="182.0" font-family="Liberation Sans" font-size="10.9">30°45'</text>
<text x="85" y="319.7" text-anchor="end" font-family="Liberation Sans" font-size="10.9">30°30'</text>
<text x="915" y="319.7" font-family="Liberation Sans" font-size="10.9">30°30'</text>
<text x="85" y="457.3" text-anchor="end" font-family="Liberation Sans" font-size="10.9">30°15'</text>
<text x="915" y="457.3" font-family="Liberation Sans" font-size="10.9">30°15'</text>
<text x="85" y="595.0" text-anchor="end" font-family="Liberation Sans" font-size="10.9">30°00'</text>
<text x="915" y="595.0" font-family="Liberation Sans" font-size="10.9">30°00'</text>
<rect x="981" y="276" width="19" height="300" fill="url(#cb)" stroke="#000" stroke-width="3"/>
<line x1="982" y1="276.0" x2="999" y2="276.0" stroke="#d0d0d0" stroke-width="1.5"/>
<line x1="1001" y1="276.0" x2="1008" y2="276.0" stroke="#000" stroke-width="1.2"/>
<text x="1027" y="280.0" text-anchor="end" font-family="Liberation Sans" font-size="10.9">37</text>
<line x1="982" y1="336.0" x2="999" y2="336.0" stroke="#d0d0d0" stroke-width="1.5"/>
<line x1="1001" y1="336.0" x2="1008" y2="336.0" stroke="#000" stroke-width="1.2"/>
<text x="1027" y="340.0" text-anchor="end" font-family="Liberation Sans" font-size="10.9">30</text>
<line x1="982" y1="396.0" x2="999" y2="396.0" stroke="#d0d0d0" stroke-width="1.5"/>
<line x1="1001" y1="396.0" x2="1008" y2="396.0" stroke="#000" stroke-width="1.2"/>
<text x="1027" y="400.0" text-anchor="end" font-family="Liberation Sans" font-size="10.9">23</text>
<line x1="982" y1="456.0" x2="999" y2="456.0" stroke="#d0d0d0" stroke-width="1.5"/>
<line x1="1001" y1="456.0" x2="1008" y2="456.0" stroke="#000" stroke-width="1.2"/>
<text x="1027" y="460.0" text-anchor="end" font-family="Liberation Sans" font-size="10.9">16</text>
<line x1="982" y1="516.0" x2="999" y2="516.0" stroke="#d0d0d0" stroke-width="1.5"/>
<line x1="1001" y1="516.0" x2="1008" y2="516.0" stroke="#000" stroke-width="1.2"/>
<text x="1027" y="520.0" text-anchor="end" font-family="Liberation Sans" font-size="10.9">9</text>
<line x1="982" y1="576.0" x2="999" y2="576.0" stroke="#d0d0d0" stroke-width="1.5"/>
<line x1="1001" y1="576.0" x2="1008" y2="576.0" stroke="#000" stroke-width="1.2"/>
<text x="1027" y="580.0" text-anchor="end" font-family="Liberation Sans" font-size="10.9">2</text>
<text transform="translate(1056,426) rotate(-90)" text-anchor="middle" font-family="Liberation Sans" font-weight="bold" font-size="14">Salinity (psu)</text>
</svg>
</body></html>
